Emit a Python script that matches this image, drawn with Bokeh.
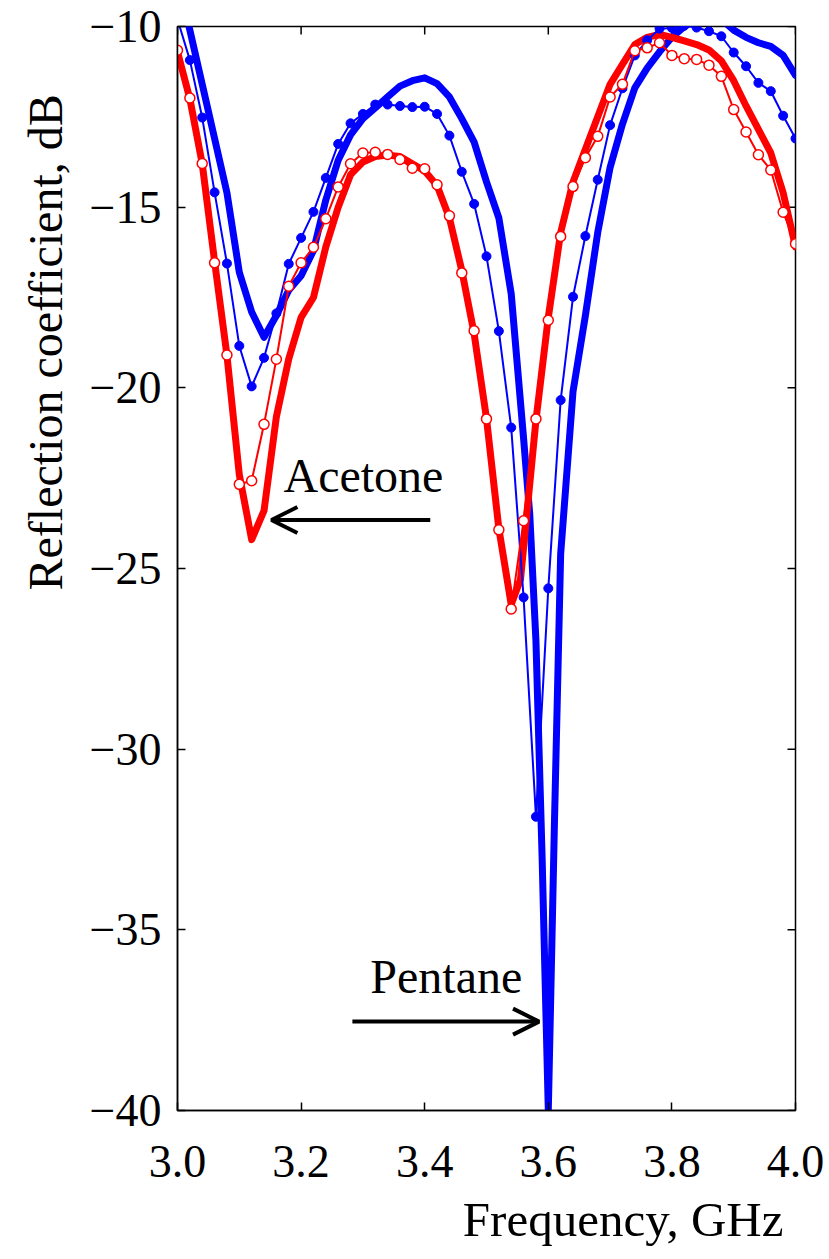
import math
from bokeh.plotting import figure
from bokeh.models import Range1d, FixedTicker, Label, Arrow, OpenHead, Title
from bokeh.embed import file_html
from bokeh.resources import INLINE

# ---------------- data ----------------
freq_meas = [3.00, 3.02, 3.04, 3.06, 3.08, 3.10, 3.12, 3.14, 3.16, 3.18,
             3.20, 3.22, 3.24, 3.26, 3.28, 3.30, 3.32, 3.34, 3.36, 3.38,
             3.40, 3.42, 3.44, 3.46, 3.48, 3.50, 3.52, 3.54, 3.56, 3.58,
             3.60, 3.62, 3.64, 3.66, 3.68, 3.70, 3.72, 3.74, 3.76, 3.78,
             3.80, 3.82, 3.84, 3.86, 3.88, 3.90, 3.92, 3.94, 3.96, 3.98, 4.00]

pentane_meas = [-9.80, -10.93, -12.52, -14.59, -16.56, -18.84, -19.96, -19.17, -17.94, -16.57,
                -15.85, -15.13, -14.19, -13.25, -12.68, -12.42, -12.16, -12.16, -12.20, -12.23,
                -12.22, -12.42, -13.02, -14.02, -14.91, -16.36, -18.43, -21.10, -25.80, -31.87,
                -25.55, -20.34, -17.48, -15.80, -14.24, -12.73, -11.71, -10.80, -10.38, -10.06,
                -10.04, -9.98, -10.03, -10.13, -10.27, -10.72, -11.10, -11.56, -11.79, -12.47, -13.10]

acetone_meas = [-10.66, -11.98, -13.79, -16.54, -19.09, -22.67, -22.57, -21.01, -19.21, -17.19,
                -16.54, -16.11, -15.32, -14.44, -13.80, -13.50, -13.48, -13.54, -13.68, -13.92,
                -13.94, -14.38, -15.24, -16.82, -18.42, -20.86, -23.93, -26.12, -23.68, -20.86,
                -18.13, -15.81, -14.43, -13.63, -13.04, -11.95, -11.60, -10.67, -10.59, -10.45,
                -10.80, -10.89, -10.91, -11.07, -11.38, -12.30, -12.92, -13.55, -13.97, -15.14, -16.01]

freq_pentane_sim = [3.00, 3.02, 3.04, 3.06, 3.08, 3.10, 3.12, 3.14, 3.16, 3.18,
                    3.20, 3.22, 3.24, 3.26, 3.28, 3.30, 3.32, 3.34, 3.36, 3.38,
                    3.40, 3.42, 3.44, 3.46, 3.48, 3.50, 3.52, 3.54, 3.56, 3.57,
                    3.58, 3.59, 3.60, 3.61, 3.62, 3.64, 3.66, 3.68, 3.70, 3.72,
                    3.74, 3.76, 3.78, 3.80, 3.82, 3.84, 3.86, 3.88, 3.90, 3.92,
                    3.94, 3.96, 3.98, 4.00]
pentane_sim = [-8.70, -10.10, -11.60, -13.10, -14.60, -16.80, -17.90, -18.60, -18.00, -17.30,
               -16.90, -16.20, -14.80, -13.70, -13.00, -12.55, -12.25, -11.95, -11.65, -11.50,
               -11.42, -11.58, -11.95, -12.55, -13.20, -14.30, -15.30, -17.40, -21.40, -23.50,
               -27.00, -33.00, -40.00, -32.00, -24.60, -20.10, -18.00, -15.70, -13.90, -12.70,
               -11.70, -11.15, -10.70, -10.30, -10.00, -9.80, -9.70, -9.80, -10.10, -10.30,
               -10.45, -10.55, -10.80, -11.35]

freq_acetone_sim = [3.00, 3.02, 3.04, 3.06, 3.08, 3.10, 3.12, 3.14, 3.16, 3.18,
                    3.20, 3.22, 3.24, 3.26, 3.28, 3.30, 3.32, 3.34, 3.36, 3.38,
                    3.40, 3.42, 3.44, 3.46, 3.48, 3.50, 3.52, 3.54, 3.555, 3.58,
                    3.60, 3.62, 3.64, 3.66, 3.68, 3.70, 3.72, 3.74, 3.76, 3.78,
                    3.80, 3.82, 3.84, 3.86, 3.88, 3.90, 3.92, 3.94, 3.96, 3.98, 4.00]
acetone_sim = [-10.70, -12.00, -13.80, -16.50, -19.10, -22.40, -24.20, -23.40, -20.80, -19.20,
               -18.05, -17.50, -16.10, -15.00, -14.10, -13.75, -13.60, -13.56, -13.60, -13.80,
               -14.00, -14.40, -15.30, -16.75, -18.50, -20.85, -23.90, -26.00, -25.30, -20.90,
               -18.05, -15.70, -14.30, -13.40, -12.50, -11.60, -11.05, -10.50, -10.30, -10.22,
               -10.30, -10.40, -10.50, -10.65, -10.95, -11.50, -12.20, -12.85, -13.50, -14.60, -16.10]

x_ticks = [3.0, 3.2, 3.4, 3.6, 3.8, 4.0]
x_tick_labels = ["3.0", "3.2", "3.4", "3.6", "3.8", "4.0"]
y_ticks = [-40, -35, -30, -25, -20, -15, -10]
y_tick_labels = ["\u221240", "\u221235", "\u221230", "\u221225", "\u221220", "\u221215", "\u221210"]

x_label = "Frequency, GHz"
y_label = "Reflection coefficient, dB"
note_acetone = "Acetone"
note_pentane = "Pentane"

FONT = "Liberation Serif"
BLUE = "#0000ff"
RED = "#ff0000"

X0, X1 = 3.0, 4.0
Y0, Y1 = -40, -10

# ---------------- figure ----------------
p = figure(width=828, height=1258, output_backend="svg", toolbar_location=None,
           x_range=Range1d(X0, X1), y_range=Range1d(Y0, Y1),
           min_border_left=177, min_border_right=33, min_border_top=26, min_border_bottom=148)
p.outline_line_color = "black"
p.outline_line_width = 1.5
p.grid.visible = False
p.background_fill_color = "white"
p.border_fill_color = "white"

for ax in (p.xaxis[0], p.yaxis[0]):
    ax.axis_line_color = "black"
    ax.axis_line_width = 1.5
    ax.major_tick_line_color = "black"
    ax.major_tick_line_width = 1.5
    ax.major_tick_in = 8
    ax.major_tick_out = 0
    ax.minor_tick_line_color = None
    ax.major_label_text_font = FONT
    ax.major_label_text_font_size = "46px"
    ax.major_label_text_color = "black"

p.xaxis.ticker = FixedTicker(ticks=x_ticks)
p.yaxis.ticker = FixedTicker(ticks=y_ticks)
p.xaxis.major_label_overrides = {float(t): s for t, s in zip(x_ticks, x_tick_labels)}
p.yaxis.major_label_overrides = {float(t): s for t, s in zip(y_ticks, y_tick_labels)}
p.xaxis.major_label_standoff = 35
p.yaxis.major_label_standoff = 16

# inward ticks on the top and right edges (half of each dash is clipped by the frame)
p.scatter(x_ticks, [Y1] * len(x_ticks), marker="dash", angle=math.pi / 2, size=16,
          line_color="black", line_width=1.5)
p.scatter([X1] * len(y_ticks), y_ticks, marker="dash", size=16,
          line_color="black", line_width=1.5)

# ---------------- series ----------------
p.line(freq_pentane_sim, pentane_sim, line_color=BLUE, line_width=7, line_join="round", line_cap="round")
p.line(freq_acetone_sim, acetone_sim, line_color=RED, line_width=7, line_join="round", line_cap="round")
p.line(freq_meas, pentane_meas, line_color=BLUE, line_width=2)
p.scatter(freq_meas, pentane_meas, marker="circle", size=9, fill_color=BLUE, line_color=BLUE)
p.line(freq_meas, acetone_meas, line_color=RED, line_width=2)
p.scatter(freq_meas, acetone_meas, marker="circle", size=10, fill_color="white",
          line_color=RED, line_width=1.5)

# ---------------- annotations ----------------
p.add_layout(Label(x=3.1715, y=-22.42, text=note_acetone, text_font=FONT,
                   text_font_size="48px", text_color="black", text_baseline="alphabetic"))
p.add_layout(Arrow(x_start=3.409, y_start=-23.66, x_end=3.152, y_end=-23.66,
                   line_width=4, line_color="black",
                   end=OpenHead(size=26, line_width=4, line_color="black")))
p.add_layout(Label(x=3.312, y=-36.28, text=note_pentane, text_font=FONT,
                   text_font_size="48px", text_color="black", text_baseline="alphabetic"))
p.add_layout(Arrow(x_start=3.283, y_start=-37.54, x_end=3.585, y_end=-37.54,
                   line_width=4, line_color="black",
                   end=OpenHead(size=26, line_width=4, line_color="black")))

# axis titles: right-aligned below, bottom-anchored on the left (as in the reference)
p.add_layout(Title(text=x_label, align="right", offset=12, standoff=21,
                   text_font=FONT, text_font_size="49px", text_font_style="normal",
                   text_color="black"), "below")
p.add_layout(Title(text=y_label, align="left", offset=520, standoff=29,
                   text_font=FONT, text_font_size="48px", text_font_style="normal",
                   text_color="black"), "left")

open("out.html", "w").write(file_html(p, INLINE))
